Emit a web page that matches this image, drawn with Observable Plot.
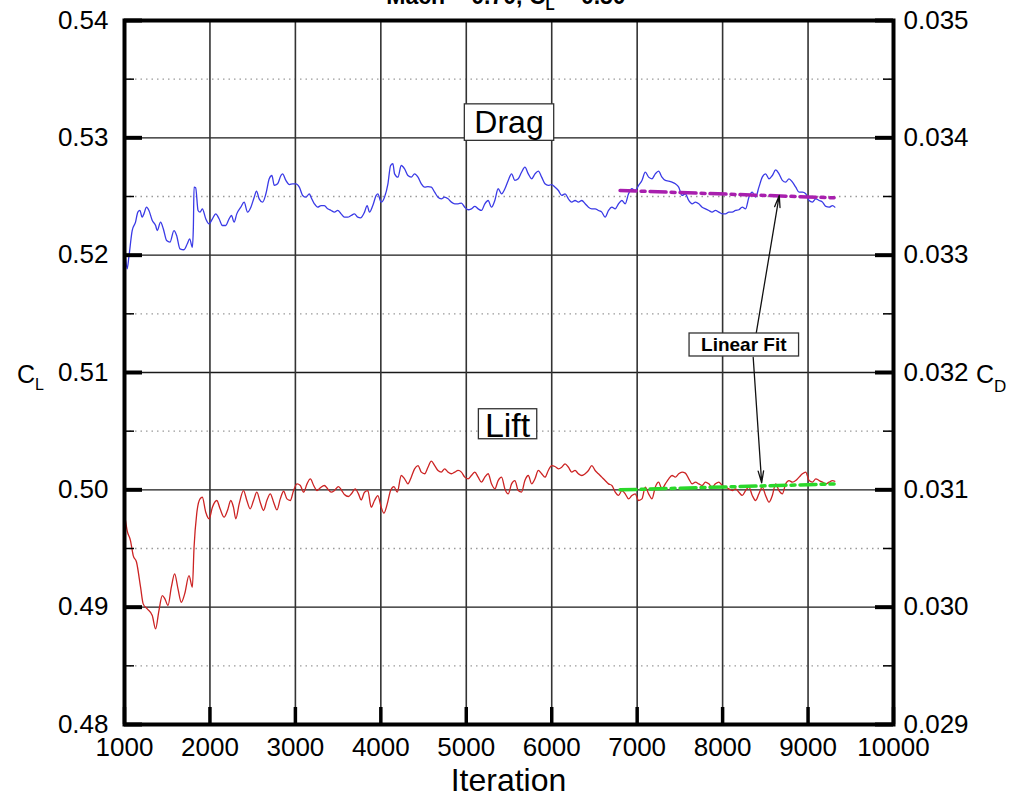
<!DOCTYPE html>
<html>
<head>
<meta charset="utf-8">
<script src="https://cdn.jsdelivr.net/npm/d3@7"></script>
<script src="https://cdn.jsdelivr.net/npm/@observablehq/plot@0.6"></script>
<style>
  html, body { margin: 0; padding: 0; background: #fff; overflow: hidden; }
  #chart svg { display: block; }
</style>
</head>
<body>
<div id="chart"></div>
<script>
// ---- Axis ticks -------------------------------------------------------
const iterTicks = [1000, 2000, 3000, 4000, 5000, 6000, 7000, 8000, 9000, 10000];
const iterTickLabels = ["1000", "2000", "3000", "4000", "5000", "6000", "7000", "8000", "9000", "10000"];
const clTicks = [0.48, 0.49, 0.50, 0.51, 0.52, 0.53, 0.54];
const clTickLabels = ["0.48", "0.49", "0.50", "0.51", "0.52", "0.53", "0.54"];
const clMinorTicks = [0.485, 0.495, 0.505, 0.515, 0.525, 0.535];
const cdTicks = [0.029, 0.030, 0.031, 0.032, 0.033, 0.034, 0.035];
const cdTickLabels = ["0.029", "0.030", "0.031", "0.032", "0.033", "0.034", "0.035"];

// ---- Convergence history ---------------------------------------------
const lateIteration = [4239, 4278, 4317, 4356, 4395, 4435, 4474, 4513, 4552, 4591, 4630, 4669, 4708, 4747, 4787, 4826, 4865, 4904, 4943, 4982,
  5021, 5060, 5100, 5139, 5178, 5217, 5256, 5295, 5334, 5373, 5413, 5452, 5491, 5530, 5569, 5608, 5647, 5686, 5726, 5765,
  5804, 5843, 5882, 5921, 5960, 5999, 6038, 6078, 6117, 6156, 6195, 6234, 6273, 6312, 6352, 6391, 6430, 6469, 6508, 6547,
  6586, 6625, 6665, 6704, 6743, 6782, 6821, 6860, 6899, 6938, 6977, 7017, 7056, 7095, 7134, 7173, 7212, 7251, 7290, 7330,
  7369, 7408, 7447, 7486, 7525, 7564, 7604, 7643, 7682, 7721, 7760, 7799, 7838, 7877, 7916, 7956, 7995, 8034, 8073, 8112,
  8151, 8190, 8230, 8269, 8308, 8347, 8386, 8425, 8464, 8503, 8543, 8582, 8621, 8660, 8699, 8738, 8777, 8817, 8856, 8895,
  8934, 8973, 9012, 9051, 9091, 9130, 9169, 9208, 9247, 9286, 9313];

const dragIteration = [1012, 1031, 1051, 1090, 1129, 1156, 1180, 1207, 1227, 1258, 1286, 1325, 1364, 1383, 1422, 1454, 1493, 1532, 1579, 1610,
  1649, 1696, 1735, 1763, 1794, 1806, 1814, 1833, 1861, 1884, 1911, 1951, 1990, 2029, 2068, 2107, 2146, 2185, 2224, 2252,
  2283, 2314, 2361, 2400, 2440, 2479, 2518, 2545, 2576, 2616, 2655, 2694, 2725, 2753, 2792, 2831, 2850, 2889, 2929, 2968,
  3007, 3046, 3085, 3124, 3163, 3183, 3222, 3261, 3300, 3339, 3378, 3418, 3457, 3496, 3535, 3574, 3613, 3652, 3691, 3730,
  3762, 3809, 3840, 3867, 3906, 3946, 3965, 4004, 4043, 4083, 4114, 4141, 4161, 4200].concat(lateIteration);

const dragCD = [0.032983, 0.032884, 0.032983, 0.033210, 0.033281, 0.033367, 0.033381, 0.033324, 0.033352, 0.033409, 0.033381, 0.033296, 0.033253, 0.033210, 0.033281, 0.033225, 0.033125, 0.033111, 0.033210, 0.033168,
  0.033054, 0.033046, 0.033097, 0.033139, 0.033068, 0.033239, 0.033580, 0.033574, 0.033381, 0.033367, 0.033395, 0.033310, 0.033267, 0.033310, 0.033352, 0.033310, 0.033253, 0.033253, 0.033310, 0.033338,
  0.033281, 0.033352, 0.033409, 0.033452, 0.033367, 0.033409, 0.033494, 0.033546, 0.033480, 0.033452, 0.033523, 0.033651, 0.033679, 0.033594, 0.033608, 0.033679, 0.033693, 0.033637, 0.033602, 0.033608,
  0.033608, 0.033580, 0.033509, 0.033494, 0.033523, 0.033494, 0.033438, 0.033409, 0.033423, 0.033423, 0.033395, 0.033381, 0.033367, 0.033381, 0.033352, 0.033324, 0.033324, 0.033338, 0.033352, 0.033324,
  0.033318, 0.033367, 0.033423, 0.033367, 0.033423, 0.033509, 0.033523, 0.033452, 0.033494, 0.033608, 0.033764, 0.033779, 0.033693, 0.033665,
  // from iteration 4239
  0.033764, 0.033736, 0.033679, 0.033665, 0.033693, 0.033665, 0.033608, 0.033580, 0.033585, 0.033580, 0.033537, 0.033494, 0.033480, 0.033494, 0.033480, 0.033452, 0.033438, 0.033438, 0.033443, 0.033409,
  0.033387, 0.033395, 0.033415, 0.033395, 0.033381, 0.033438, 0.033466, 0.033409, 0.033466, 0.033566, 0.033523, 0.033566, 0.033637, 0.033693, 0.033637, 0.033651, 0.033707, 0.033750, 0.033693, 0.033651,
  0.033693, 0.033716, 0.033665, 0.033608, 0.033594, 0.033602, 0.033580, 0.033551, 0.033509, 0.033523, 0.033480, 0.033452, 0.033466, 0.033452, 0.033466, 0.033438, 0.033409, 0.033395, 0.033395, 0.033381,
  0.033367, 0.033324, 0.033381, 0.033409, 0.033395, 0.033438, 0.033466, 0.033438, 0.033523, 0.033566, 0.033551, 0.033594, 0.033637, 0.033707, 0.033665, 0.033651, 0.033693, 0.033716, 0.033665, 0.033637,
  0.033631, 0.033622, 0.033608, 0.033580, 0.033509, 0.033523, 0.033466, 0.033438, 0.033452, 0.033438, 0.033409, 0.033395, 0.033381, 0.033367, 0.033381, 0.033367, 0.033352, 0.033352, 0.033367, 0.033367,
  0.033381, 0.033387, 0.033409, 0.033395, 0.033494, 0.033537, 0.033494, 0.033580, 0.033665, 0.033693, 0.033651, 0.033679, 0.033727, 0.033693, 0.033637, 0.033622, 0.033651, 0.033622, 0.033580, 0.033537,
  0.033537, 0.033523, 0.033466, 0.033452, 0.033480, 0.033466, 0.033452, 0.033415, 0.033409, 0.033423, 0.033409];

const liftIteration = [1012, 1031, 1070, 1102, 1141, 1188, 1219, 1266, 1325, 1364, 1403, 1442, 1473, 1509, 1548, 1587, 1626, 1665, 1704, 1755,
  1794, 1814, 1845, 1884, 1911, 1951, 1990, 2029, 2080, 2119, 2166, 2205, 2244, 2275, 2303, 2342, 2393, 2432, 2471, 2510,
  2549, 2588, 2627, 2666, 2706, 2745, 2784, 2823, 2862, 2901, 2940, 2979, 3019, 3058, 3097, 3136, 3175, 3214, 3253, 3292,
  3339, 3378, 3418, 3457, 3504, 3543, 3574, 3621, 3660, 3699, 3738, 3770, 3809, 3848, 3887, 3926, 3965, 4004, 4036, 4075,
  4114, 4153, 4192].concat(lateIteration);

const liftCL = [0.49738, 0.49653, 0.49568, 0.49440, 0.49383, 0.49170, 0.49028, 0.48985, 0.48929, 0.48815, 0.48971, 0.49099, 0.49071, 0.49014, 0.49170, 0.49284, 0.49156, 0.49042, 0.49113, 0.49269,
  0.49170, 0.49511, 0.49795, 0.49923, 0.49937, 0.49809, 0.49753, 0.49852, 0.49909, 0.49838, 0.49767, 0.49824, 0.49909, 0.49852, 0.49753, 0.49880, 0.49994, 0.49909, 0.49838, 0.49909,
  0.49980, 0.49895, 0.49824, 0.49909, 0.49966, 0.49895, 0.49829, 0.49923, 0.49988, 0.49923, 0.49909, 0.49994, 0.50051, 0.50037, 0.49980, 0.50051, 0.50093, 0.50037, 0.49994, 0.50017,
  0.50037, 0.50008, 0.49980, 0.49994, 0.50028, 0.49994, 0.49960, 0.49943, 0.49971, 0.50008, 0.49966, 0.49914, 0.49980, 0.49994, 0.49852, 0.49909, 0.49951, 0.49852, 0.49801, 0.49880,
  0.49994, 0.50028, 0.49980,
  // from iteration 4239
  0.50122, 0.50094, 0.50051, 0.50108, 0.50179, 0.50207, 0.50151, 0.50137, 0.50193, 0.50244, 0.50207, 0.50165, 0.50151, 0.50179, 0.50151, 0.50137, 0.50151, 0.50165, 0.50151, 0.50108,
  0.50094, 0.50122, 0.50151, 0.50108, 0.50065, 0.50108, 0.50137, 0.50051, 0.50008, 0.50079, 0.50108, 0.50008, 0.49966, 0.50051, 0.50079, 0.49994, 0.49980, 0.50079, 0.50122, 0.50051,
  0.50094, 0.50165, 0.50137, 0.50108, 0.50165, 0.50207, 0.50199, 0.50179, 0.50193, 0.50222, 0.50193, 0.50151, 0.50165, 0.50137, 0.50122, 0.50137, 0.50165, 0.50207, 0.50165, 0.50137,
  0.50108, 0.50079, 0.50051, 0.50037, 0.49980, 0.49952, 0.49994, 0.49966, 0.49923, 0.49952, 0.49966, 0.49909, 0.49923, 0.50023, 0.49966, 0.49923, 0.50023, 0.50065, 0.50008, 0.50051,
  0.50094, 0.50122, 0.50108, 0.50137, 0.50151, 0.50142, 0.50094, 0.50051, 0.50065, 0.50051, 0.50037, 0.50065, 0.50051, 0.50023, 0.50051, 0.50065, 0.50037, 0.50023, 0.50008, 0.49994,
  0.50008, 0.49980, 0.49952, 0.49994, 0.50023, 0.49952, 0.49909, 0.49966, 0.50023, 0.49952, 0.49895, 0.49952, 0.50051, 0.49994, 0.49966, 0.50051, 0.50079, 0.50065, 0.50079, 0.50108,
  0.50137, 0.50151, 0.50079, 0.50065, 0.50094, 0.50079, 0.50065, 0.50051, 0.50065, 0.50079, 0.50073];

// ---- Linear fits over the last part of the run -----------------------
const fitIteration = [6800, 9305];
const dragFitCD = [0.033551, 0.033489];
const liftFitCL = [0.50000, 0.50050];

// ---- Annotations (positions in iteration / C_L units) ----------------
const labels = [
  {text: "Drag", x: 5506, y: 0.53034},
  {text: "Lift", x: 5489, y: 0.50444},
  {text: "Linear Fit", x: 8254, y: 0.51179}
];
const fitArrows = [
  {x1: 8393, y1: 0.51333, x2: 8663, y2: 0.52509},
  {x1: 8358, y1: 0.51128, x2: 8457, y2: 0.50060}
];

// C_D (right axis, 0.029–0.035) shares the frame with C_L (left axis, 0.48–0.54)
const cdToCl = (cd) => 0.48 + (cd - 0.029) * 10;

const W = 1016, H = 793;
const mL = 124, mR = 123, mT = 20, mB = 69;
const innerW = W - mL - mR, innerH = H - mT - mB;
const font = '"Liberation Sans", Arial, Helvetica, sans-serif';

const chart = Plot.plot({
  width: W, height: H,
  marginLeft: mL, marginRight: mR, marginTop: mT, marginBottom: mB,
  style: {fontFamily: font, fontSize: "26px", color: "black", background: "white", overflow: "visible"},
  x: {type: "linear", domain: [1000, 10000]},
  y: {type: "linear", domain: [0.48, 0.54]},
  marks: [
    // grid
    Plot.ruleY(clMinorTicks, {stroke: "#9a9a9a", strokeWidth: 1.3, strokeDasharray: "1.5,4"}),
    Plot.ruleY(clTicks.slice(1, -1), {stroke: "#1a1a1a", strokeWidth: 1.3}),
    Plot.ruleX(iterTicks.slice(1, -1), {stroke: "#333", strokeWidth: 1.6}),
    // histories
    Plot.line(dragCD, {x: dragIteration, y: cdToCl, stroke: "#3a3ae6", strokeWidth: 1.3, curve: "monotone-x"}),
    Plot.line(liftCL, {x: liftIteration, y: (d) => d, stroke: "#cc2323", strokeWidth: 1.3, curve: "monotone-x"}),
    // linear fits
    Plot.line(dragFitCD, {x: fitIteration, y: cdToCl, stroke: "#a81fae", strokeWidth: 3.5, strokeDasharray: "16,5,4,5"}),
    Plot.line(liftFitCL, {x: fitIteration, y: (d) => d, stroke: "#2ad82a", strokeWidth: 3.5, strokeDasharray: "16,5,4,5"}),
    Plot.arrow(fitArrows, {x1: "x1", y1: "y1", x2: "x2", y2: "y2", stroke: "#111", strokeWidth: 1.3, headLength: 14, headAngle: 26}),
    // tick marks (inward)
    Plot.ruleY(clTicks, {insetRight: innerW - 18, stroke: "black", strokeWidth: 4}),
    Plot.ruleY(clTicks, {insetLeft: innerW - 18, stroke: "black", strokeWidth: 4}),
    Plot.ruleY(clMinorTicks, {insetRight: innerW - 10, stroke: "black", strokeWidth: 1.5}),
    Plot.ruleY(clMinorTicks, {insetLeft: innerW - 10, stroke: "black", strokeWidth: 1.5}),
    Plot.ruleX(iterTicks, {insetTop: innerH - 17, stroke: "black", strokeWidth: 3.5}),
    Plot.frame({stroke: "black", strokeWidth: 4}),
    // tick labels
    Plot.axisX(iterTicks, {anchor: "bottom", tickSize: 0, tickPadding: 13, fontSize: 26, label: null,
      tickFormat: (d) => iterTickLabels[iterTicks.indexOf(d)]}),
    Plot.axisY(clTicks, {anchor: "left", tickSize: 0, tickPadding: 16, fontSize: 26, label: null,
      tickFormat: (d) => clTickLabels[Math.round((d - 0.48) * 100)]}),
    Plot.axisY(cdTicks.map(cdToCl), {anchor: "right", tickSize: 0, tickPadding: 10, fontSize: 26, label: null,
      tickFormat: (d) => cdTickLabels[Math.round((d - 0.48) * 100)]})
  ]
});

document.getElementById("chart").appendChild(chart);

const svg = d3.select(chart);
const sx = chart.scale("x"), sy = chart.scale("y");

// boxed labels: baseline-anchored text with a white box drawn behind it
const boxStyle = {
  "Drag": {size: 32, weight: "normal", above: 29.5, below: 7, padX: 10},
  "Lift": {size: 34, weight: "normal", above: 28.5, below: 1.5, padX: 6.5},
  "Linear Fit": {size: 19, weight: "bold", above: 18, below: 5, padX: 12}
};
const gLabels = svg.append("g").attr("font-family", font);
labels.forEach((d) => {
  const st = boxStyle[d.text];
  const px = sx.apply(d.x), py = sy.apply(d.y);
  const g = gLabels.append("g");
  const rect = g.append("rect");
  const t = g.append("text")
    .attr("x", px).attr("y", py)
    .attr("text-anchor", "middle")
    .attr("font-size", st.size).attr("font-weight", st.weight)
    .attr("fill", "black")
    .text(d.text);
  const w = t.node().getComputedTextLength();
  rect.attr("x", px - w / 2 - st.padX).attr("y", py - st.above)
    .attr("width", w + 2 * st.padX).attr("height", st.above + st.below)
    .attr("fill", "white").attr("stroke", "#333").attr("stroke-width", 1.3);
});

// title and axis titles (with subscripts)
const title = svg.append("text").attr("x", 506).attr("y", 4)
  .attr("text-anchor", "middle").attr("font-family", font)
  .attr("font-size", 23).attr("font-weight", "bold").attr("fill", "black");
title.append("tspan").text("Mach = 0.70, C");
title.append("tspan").attr("font-size", 15).attr("dy", 6).text("L");
title.append("tspan").attr("dy", -6).text(" = 0.50");

const clLabel = svg.append("text").attr("x", 17).attr("y", 383)
  .attr("text-anchor", "start").attr("font-family", font)
  .attr("font-size", 25).attr("fill", "black");
clLabel.append("tspan").text("C");
clLabel.append("tspan").attr("font-size", 16).attr("dy", 7).text("L");

const cdLabel = svg.append("text").attr("x", 976).attr("y", 383)
  .attr("text-anchor", "start").attr("font-family", font)
  .attr("font-size", 25).attr("fill", "black");
cdLabel.append("tspan").text("C");
cdLabel.append("tspan").attr("font-size", 17).attr("dy", 9).text("D");

svg.append("text").attr("x", (mL + W - mR) / 2).attr("y", 791)
  .attr("text-anchor", "middle").attr("font-family", font)
  .attr("font-size", 32).attr("fill", "black").text("Iteration");
</script>
</body>
</html>
